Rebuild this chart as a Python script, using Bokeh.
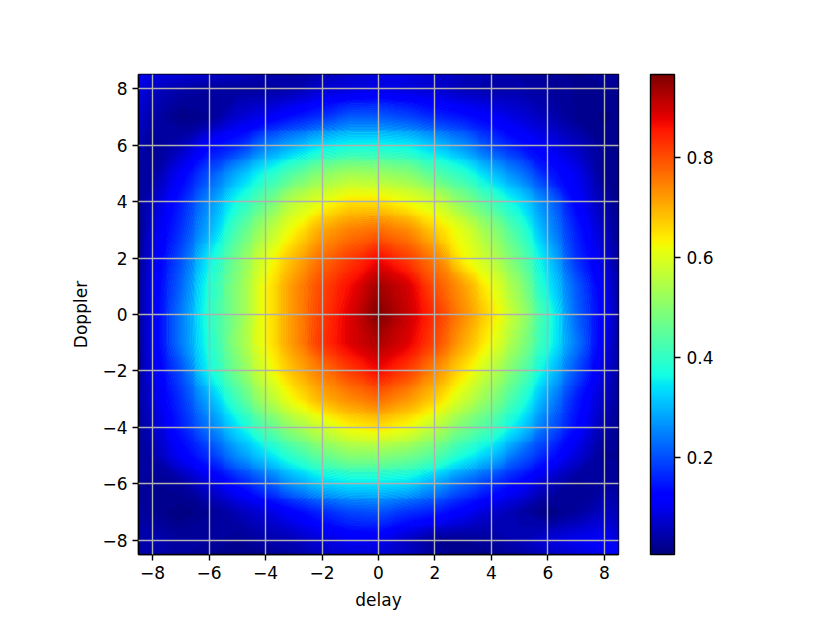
import numpy as np
from bokeh.plotting import figure
from bokeh.models import LinearColorMapper, ColorBar, FixedTicker, Range1d
from bokeh.embed import file_html
from bokeh.resources import INLINE

# ---- data ----
# sample positions: the plot edges (+-8.5) and every integer in between
delay_coords = [-8.5] + list(range(-8, 9)) + [8.5]          # x, left -> right
doppler_coords = [8.5] + list(range(8, -9, -1)) + [-8.5]     # y, top -> bottom

# one list per Doppler row (top -> bottom), values at delay_coords
row_p85 = [0.10, 0.09, 0.08, 0.07, 0.06, 0.045, 0.035, 0.05, 0.07, 0.085, 0.09, 0.07, 0.055, 0.045, 0.035, 0.025, 0.02, 0.025, 0.035]
row_p8 = [0.09, 0.06, 0.04, 0.03, 0.03, 0.03, 0.04, 0.07, 0.08, 0.09, 0.08, 0.07, 0.05, 0.04, 0.04, 0.03, 0.02, 0.02, 0.015]
row_p7 = [0.07, 0.04, 0.01, 0.02, 0.07, 0.10, 0.14, 0.17, 0.21, 0.21, 0.19, 0.16, 0.14, 0.11, 0.08, 0.05, 0.02, 0.01, 0.015]
row_p6 = [0.05, 0.02, 0.05, 0.12, 0.16, 0.24, 0.29, 0.34, 0.36, 0.36, 0.35, 0.31, 0.26, 0.19, 0.14, 0.10, 0.06, 0.02, 0.015]
row_p5 = [0.035, 0.03, 0.11, 0.20, 0.29, 0.37, 0.44, 0.50, 0.53, 0.52, 0.50, 0.44, 0.39, 0.31, 0.24, 0.15, 0.10, 0.02, 0.015]
row_p4 = [0.025, 0.06, 0.15, 0.26, 0.37, 0.46, 0.56, 0.61, 0.65, 0.65, 0.62, 0.58, 0.50, 0.42, 0.34, 0.24, 0.12, 0.04, 0.015]
row_p3 = [0.015, 0.08, 0.17, 0.29, 0.43, 0.54, 0.63, 0.71, 0.75, 0.77, 0.74, 0.67, 0.60, 0.51, 0.41, 0.27, 0.15, 0.06, 0.02]
row_p2 = [0.015, 0.09, 0.20, 0.35, 0.48, 0.60, 0.69, 0.77, 0.82, 0.87, 0.82, 0.75, 0.63, 0.56, 0.46, 0.32, 0.17, 0.08, 0.025]
row_p1 = [0.015, 0.10, 0.22, 0.38, 0.50, 0.63, 0.73, 0.81, 0.87, 0.94, 0.90, 0.80, 0.72, 0.62, 0.51, 0.35, 0.21, 0.10, 0.03]
row_0  = [0.015, 0.10, 0.24, 0.39, 0.50, 0.63, 0.73, 0.82, 0.89, 0.967, 0.91, 0.83, 0.74, 0.65, 0.54, 0.39, 0.22, 0.11, 0.03]
row_m1 = [0.02, 0.10, 0.24, 0.38, 0.51, 0.63, 0.73, 0.83, 0.89, 0.93, 0.89, 0.81, 0.71, 0.62, 0.51, 0.38, 0.24, 0.10, 0.03]
row_m2 = [0.025, 0.09, 0.20, 0.36, 0.48, 0.60, 0.69, 0.76, 0.82, 0.87, 0.82, 0.74, 0.65, 0.56, 0.46, 0.33, 0.20, 0.08, 0.03]
row_m3 = [0.03, 0.08, 0.17, 0.29, 0.42, 0.54, 0.63, 0.70, 0.74, 0.77, 0.73, 0.67, 0.58, 0.50, 0.40, 0.27, 0.15, 0.06, 0.03]
row_m4 = [0.03, 0.06, 0.15, 0.24, 0.34, 0.44, 0.52, 0.58, 0.63, 0.65, 0.62, 0.56, 0.48, 0.42, 0.33, 0.22, 0.13, 0.04, 0.025]
row_m5 = [0.03, 0.04, 0.11, 0.17, 0.26, 0.33, 0.40, 0.46, 0.50, 0.50, 0.48, 0.44, 0.37, 0.31, 0.22, 0.15, 0.08, 0.02, 0.02]
row_m6 = [0.03, 0.02, 0.03, 0.08, 0.14, 0.20, 0.27, 0.32, 0.34, 0.34, 0.33, 0.28, 0.22, 0.17, 0.12, 0.06, 0.02, 0.03, 0.03]
row_m7 = [0.035, 0.02, 0.005, 0.02, 0.05, 0.08, 0.12, 0.16, 0.19, 0.20, 0.17, 0.15, 0.11, 0.07, 0.04, 0.005, 0.03, 0.06, 0.05]
row_m8 = [0.04, 0.05, 0.03, 0.03, 0.02, 0.04, 0.05, 0.08, 0.10, 0.10, 0.06, 0.02, 0.02, 0.03, 0.05, 0.08, 0.10, 0.11, 0.08]
row_m85 = [0.045, 0.04, 0.03, 0.02, 0.015, 0.02, 0.035, 0.06, 0.08, 0.075, 0.06, 0.03, 0.015, 0.02, 0.035, 0.06, 0.08, 0.10, 0.12]

ambiguity_rows = [row_p85, row_p8, row_p7, row_p6, row_p5, row_p4, row_p3, row_p2, row_p1, row_0,
                  row_m1, row_m2, row_m3, row_m4, row_m5, row_m6, row_m7, row_m8, row_m85]

axis_ticks = [-8, -6, -4, -2, 0, 2, 4, 6, 8]
axis_tick_labels = ["\u22128", "\u22126", "\u22124", "\u22122", "0", "2", "4", "6", "8"]
cbar_ticks = [0.2, 0.4, 0.6, 0.8]
cbar_tick_labels = ["0.2", "0.4", "0.6", "0.8"]


def jet_rgb(t):
    t = np.asarray(t, dtype=float)
    r = np.interp(t, [0, 0.35, 0.66, 0.89, 1], [0, 0, 1, 1, 0.5])
    g = np.interp(t, [0, 0.125, 0.375, 0.64, 0.91, 1], [0, 0, 1, 1, 0, 0])
    b = np.interp(t, [0, 0.11, 0.34, 0.65, 1], [0.5, 1, 1, 0, 0])
    return ["#%02x%02x%02x" % (int(round(255 * a)), int(round(255 * c)), int(round(255 * d)))
            for a, c, d in zip(r, g, b)]


Z = np.array(ambiguity_rows[::-1], dtype=float)     # bottom row first
X, Y = np.meshgrid(np.array(delay_coords, dtype=float), np.array(doppler_coords[::-1], dtype=float))
zmin, zmax = float(Z.min()), float(Z.max())

FONT = "DejaVu Sans"
FS = "17px"

x_lo, x_hi = delay_coords[0], delay_coords[-1]
y_lo, y_hi = doppler_coords[-1], doppler_coords[0]

p = figure(frame_width=480, frame_height=480,
           x_range=Range1d(x_lo, x_hi), y_range=Range1d(y_lo, y_hi),
           output_backend="svg", toolbar_location=None,
           min_border_left=138, min_border_top=74, min_border_bottom=55, min_border_right=10)
p.background_fill_color = "#0000c0"
p.border_fill_color = "white"
p.outline_line_color = "black"
p.outline_line_width = 1.4

mapper = LinearColorMapper(palette=jet_rgb(np.linspace(0, 1, 256)), low=zmin, high=zmax)

# coarse underlay (interior samples) so that anti-aliasing seams between bands stay invisible
inner = Z[1:-1, 1:-1]
p.image(image=[inner], x=x_lo, y=y_lo, dw=x_hi - x_lo, dh=y_hi - y_lo, color_mapper=mapper)

n_bands = 120
levels = np.linspace(zmin - 1e-6, zmax + 1e-6, n_bands + 1)
mids = (levels[:-1] + levels[1:]) / 2
band_colors = jet_rgb(np.clip((mids - zmin) / (zmax - zmin), 0, 1))
p.contour(X, Y, Z, levels=list(levels), fill_color=band_colors, line_color=None)

xt = FixedTicker(ticks=axis_ticks)
yt = FixedTicker(ticks=axis_ticks)
overrides = {t: l for t, l in zip(axis_ticks, axis_tick_labels)}
for ax, tk in ((p.xaxis[0], xt), (p.yaxis[0], yt)):
    ax.ticker = tk
    ax.major_label_overrides = overrides
    ax.major_tick_in = 0
    ax.major_tick_out = 6
    ax.major_tick_line_width = 1.4
    ax.minor_tick_line_color = None
    ax.axis_line_width = 1.4
    ax.major_label_text_font = FONT
    ax.major_label_text_font_size = FS
    ax.major_label_text_color = "black"
    ax.major_label_standoff = 5
    ax.axis_label_text_font = FONT
    ax.axis_label_text_font_size = FS
    ax.axis_label_text_font_style = "normal"
    ax.axis_label_text_color = "black"
    ax.axis_label_standoff = 8
p.xaxis.axis_label = "delay"
p.yaxis.axis_label = "Doppler"

p.xgrid.ticker = xt
p.ygrid.ticker = yt
p.grid.grid_line_color = "#b0b0b0"
p.grid.grid_line_width = 1.4
p.grid.level = "annotation"

cb = ColorBar(color_mapper=mapper, ticker=FixedTicker(ticks=cbar_ticks),
              major_label_overrides={t: l for t, l in zip(cbar_ticks, cbar_tick_labels)},
              width=24, height=480, location=(32, 0), margin=0, padding=0,
              major_tick_in=0, major_tick_out=6, major_tick_line_color="black",
              major_tick_line_width=1.4, minor_tick_line_color=None,
              bar_line_color="black", bar_line_width=1.4, label_standoff=6,
              major_label_text_font=FONT, major_label_text_font_size=FS,
              major_label_text_color="black",
              background_fill_alpha=0, border_line_color=None)
p.add_layout(cb, "right")

open("out.html", "w").write(file_html(p, INLINE))
